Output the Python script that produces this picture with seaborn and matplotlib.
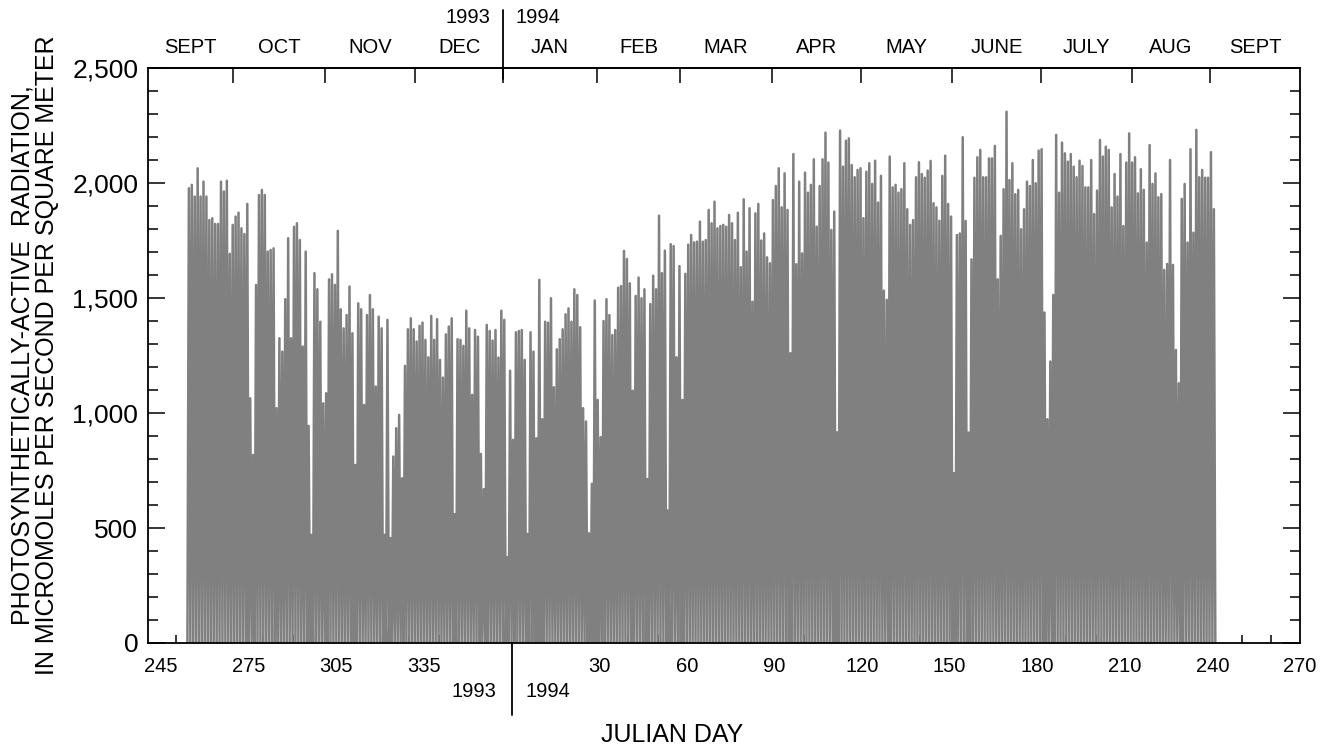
import numpy as np
import pandas as pd
import matplotlib
matplotlib.use("Agg")
import matplotlib.pyplot as plt
from matplotlib.ticker import MultipleLocator, FixedLocator, FuncFormatter
import seaborn as sns

# ---------------- data (daily peak PAR) ----------------
first_day_1993 = 255          # Julian day of first value in 1993
peaks_1993 = [
    1977, 1992, 1941, 2064, 1941, 2006, 1941, 1839, 1847, 1822, 1822, 2006, 1963, 2010, 1692,
    1818, 1854, 1871, 1803, 1778, 1909, 1064, 818, 1557, 1948, 1970, 1948, 1702, 1709, 1716,
    1021, 1325, 1267, 1495, 1760, 1325, 1810, 1825, 1752, 1289, 1702, 944, 470, 1608, 1538,
    1397, 1042, 1086, 1581, 1603, 1557, 1792, 1451, 1368, 1426, 1550, 1347, 774, 1477,
    1451, 1035, 1426, 1513, 1451, 1115, 1419, 1368, 470, 1405, 456, 811, 934, 992, 716,
    1205, 1364, 1412, 1364, 1311, 1379, 1393, 1318, 1242, 1422, 1318, 1408, 1231, 1154, 1342,
    1376, 1412, 560, 1321, 1318, 1292, 1445, 1368, 1079, 1361, 1332, 822, 669, 1383, 1357,
    1315, 1361, 1241, 1445, 1405, 373, 1184,
]
first_day_1994 = 1
peaks_1994 = [
    883, 1351, 1357, 1361, 1231, 474, 1351,
    1267, 890, 1579, 973, 1397, 1393, 1499, 1112, 1277, 1321, 1364, 1429, 1455, 1397, 1538,
    1513, 1373, 1021, 963, 477, 692, 1489, 1057, 895, 1400, 1495, 1426, 1339, 1361, 1545,
    1552, 1705, 1670, 1564, 1097, 1509, 1589, 1499, 1538, 713, 1474, 1597, 1538, 1858, 1608,
    1706, 576, 1734, 1726, 1242, 1639, 1057, 1605, 1732, 1774, 1742, 1745, 1832, 1745, 1752,
    1883, 1825, 1919, 1803, 1813, 1818, 1810, 1861, 1825, 1752, 1871, 1634, 1929, 1702, 1890,
    1484, 1868, 1909, 1750, 1781, 1677, 1651, 1926, 1987, 2064, 1894, 2042, 1883, 1260, 2126,
    1647, 2006, 1694, 2045, 1958, 1992, 2103, 1810, 1987, 2103, 2219, 2089, 1796, 1876, 916,
    2228, 2071, 2184, 2194, 2078, 2025, 2057, 2064, 1847, 2049, 2086, 1996, 2097, 1915,
    2031, 1532, 1492, 2115, 1981, 1992, 1958, 1973, 2086, 1886, 1818, 1839, 2025, 2090, 2039,
    2023, 2054, 2096, 1912, 1894, 1836, 2031, 2119, 1909, 1854, 738, 1774, 1781, 2199, 1835,
    915, 1668, 2023, 2112, 2144, 2025, 2025, 2107, 2107, 2161, 1581, 1770, 1973, 2310, 2013,
    2086, 1951, 1970, 1799, 1886, 2006, 1987, 2100, 1999, 2141, 2147, 1437, 973, 1224, 1513,
    2209,
    1958, 2176, 2129, 2093, 2126, 2071, 2025, 2097, 2074, 1981, 1981, 2100, 1865, 1967, 2187,
    2115, 2158, 2144, 1894, 2039, 1941, 2126, 1813, 2089, 2216, 2089, 2112, 1955, 2060, 1970,
    1741, 2165, 1996, 2042, 1938, 1952, 1622, 1648, 2100, 1644, 1274, 1129, 1931, 1996, 1741,
    2147, 1784, 2231, 2025, 2057, 2023, 2023, 2134, 1886,
]

# tick labels
ticks_1993 = [245, 275, 305, 335]
ticks_1994 = [30, 60, 90, 120, 150, 180, 210, 240, 270]
minor_1993 = [250, 260, 270, 280, 290, 300, 310, 320, 330, 340, 350, 360]
minor_1994 = [10, 20, 40, 50, 70, 80, 100, 110, 130, 140, 160, 170, 190, 200,
              220, 230, 250, 260]
month_names = ["SEPT", "OCT", "NOV", "DEC", "JAN", "FEB", "MAR", "APR",
               "MAY", "JUNE", "JULY", "AUG", "SEPT"]
# month boundaries on the top axis (day count from 1 Jan 1993)
month_bounds = [269.7, 301.2, 332.0, 362.1, 394.3, 422.7, 454.2, 484.7,
                515.9, 546.4, 577.5, 604.2]

YEAR_LEN = 365
X_MIN, X_MAX = 240.5, 635

# ---------------- build series ----------------
day_pos = ([first_day_1993 + i for i in range(len(peaks_1993))] +
           [YEAR_LEN + first_day_1994 + i for i in range(len(peaks_1994))])
peaks = peaks_1993 + peaks_1994
xs, ys = [], []
for d, p in zip(day_pos, peaks):
    xs += [d - 1.0, d - 0.5]
    ys += [0.0, p]
xs.append(day_pos[-1])
ys.append(0.0)
df = pd.DataFrame({"day": xs, "par": ys})

# ---------------- figure ----------------
sns.set_theme(style="ticks")
plt.rcParams["font.family"] = ["Liberation Sans", "DejaVu Sans"]
plt.rcParams.update({"text.color": "black", "axes.labelcolor": "black",
                     "xtick.color": "black", "ytick.color": "black",
                     "axes.edgecolor": "black"})

W, H = 1343, 750
fig = plt.figure(figsize=(W / 100, H / 100), dpi=100)
L, R, T, B = 148, 1300, 68, 643
ax = fig.add_axes([L / W, 1 - B / H, (R - L) / W, (B - T) / H])

sns.lineplot(data=df, x="day", y="par", ax=ax, color="#808080",
             linewidth=1.8, estimator=None, sort=False)

ax.set_xlim(X_MIN, X_MAX)
ax.set_ylim(0, 2500)
for s in ax.spines.values():
    s.set_visible(True)
    s.set_color("black")
    s.set_linewidth(1.3)

# y axis
ax.yaxis.set_major_locator(MultipleLocator(500))
ax.yaxis.set_minor_locator(MultipleLocator(100))
ax.yaxis.set_major_formatter(FuncFormatter(lambda v, p: f"{int(v):,}"))
ax.tick_params(axis="y", which="both", direction="in", left=True, right=True,
               labelsize=19, pad=7, colors="black", labelcolor="black")
ax.tick_params(axis="y", which="major", length=12, width=1.1)
ax.tick_params(axis="y", which="minor", length=7, width=1.1)

# bottom x axis
major_pos = ticks_1993 + [YEAR_LEN + d for d in ticks_1994]
major_lab = [str(d) for d in ticks_1993] + [str(d) for d in ticks_1994]
ax.xaxis.set_major_locator(FixedLocator(major_pos))
ax.set_xticklabels(major_lab)
ax.xaxis.set_minor_locator(FixedLocator(minor_1993 + [YEAR_LEN + d for d in minor_1994]))
ax.tick_params(axis="x", which="major", direction="in", length=0, labelsize=14.5,
               pad=10, colors="black", labelcolor="black", bottom=True, top=False)
ax.tick_params(axis="x", which="minor", direction="in", length=6, width=1.1,
               bottom=True, top=False, colors="black")
ax.set_xlabel("")
ax.set_ylabel("")

# top month axis
sec = ax.secondary_xaxis("top")
sec.set_xticks(month_bounds)
sec.set_xticklabels([""] * len(month_bounds))
edges = [X_MIN] + month_bounds + [X_MAX]
mids = [(a + b) / 2 for a, b in zip(edges[:-1], edges[1:])]
sec.set_xticks(mids, labels=month_names, minor=True)
sec.tick_params(axis="x", which="major", direction="in", length=11, width=1.1, colors="black")
sec.tick_params(axis="x", which="minor", length=0, labelsize=14.5, pad=8,
                labelcolor="black")
sec.spines["top"].set_linewidth(1.3)
sec.spines["top"].set_color("black")

# year dividers
ax.axvline(YEAR_LEN, ymin=-0.125, ymax=0, clip_on=False, color="black", lw=1.3)
ax.axvline(month_bounds[3], ymin=0.98, ymax=1.10, clip_on=False, color="black", lw=1.3)
ax.annotate("1993", xy=(YEAR_LEN, -0.085), xycoords=("data", "axes fraction"),
            xytext=(-11, 0), textcoords="offset points", ha="right", va="center",
            fontsize=14.5, color="black")
ax.annotate("1994", xy=(YEAR_LEN, -0.085), xycoords=("data", "axes fraction"),
            xytext=(10, 0), textcoords="offset points", ha="left", va="center",
            fontsize=14.5, color="black")
ax.annotate("1993", xy=(month_bounds[3], 1.087), xycoords=("data", "axes fraction"),
            xytext=(-9, 0), textcoords="offset points", ha="right", va="center",
            fontsize=14.5, color="black")
ax.annotate("1994", xy=(month_bounds[3], 1.087), xycoords=("data", "axes fraction"),
            xytext=(9, 0), textcoords="offset points", ha="left", va="center",
            fontsize=14.5, color="black")

# axis titles
fig.text(672 / W, 1 - 735 / H, "JULIAN DAY", ha="center", va="center", fontsize=18,
         color="black")
fig.text(35 / W, 1 - 355 / H,
         "PHOTOSYNTHETICALLY-ACTIVE  RADIATION,\nIN MICROMOLES PER SECOND PER SQUARE METER",
         rotation=90, ha="center", va="center", fontsize=18, linespacing=1.05,
         color="black")

fig.savefig("out.png", dpi=100)
